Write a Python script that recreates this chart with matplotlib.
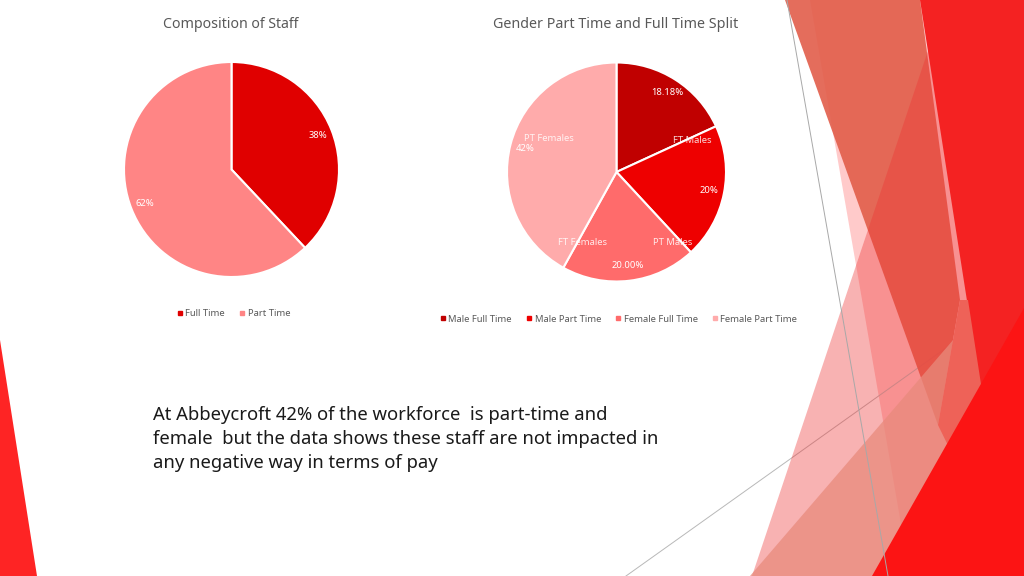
import matplotlib
matplotlib.use("Agg")
import matplotlib.pyplot as plt
from matplotlib.patches import Polygon
from matplotlib.lines import Line2D

# ---------------- data ----------------
staff_categories = ["Full Time", "Part Time"]
staff_values = [38, 62]
staff_labels = ["38%", "62%"]
staff_colors = ["#E00000", "#FF8585"]

gender_categories = ["Male Full Time", "Male Part Time", "Female Full Time", "Female Part Time"]
gender_values = [18.18, 20, 20, 42]
gender_labels = ["18.18%", "20%", "20.00%", "42%"]
gender_colors = ["#C00000", "#EE0000", "#FF6B6B", "#FFABAB"]
gender_tags = ["FT Males", "PT Males", "FT Females", "PT Females"]

title_left = "Composition of Staff"
title_right = "Gender Part Time and Full Time Split"
body_lines = ["At Abbeycroft 42% of the workforce  is part-time and",
              "female  but the data shows these staff are not impacted in",
              "any negative way in terms of pay"]

FONT = "Noto Sans"
W, H = 1024, 576
fig = plt.figure(figsize=(W / 100, H / 100), dpi=100)
fig.patch.set_facecolor("white")

# ---------------- background decoration (pixel coords) ----------------
bg = fig.add_axes([0, 0, 1, 1], zorder=0)
bg.set_xlim(0, W)
bg.set_ylim(H, 0)
bg.axis("off")

def poly(pts, color, alpha=1.0, z=1):
    bg.add_patch(Polygon(pts, closed=True, facecolor=color, edgecolor="none", alpha=alpha, zorder=z))

# pale pink band A
poly([(810, 0), (W, 0), (W, H), (910, H)], (1.0, 0.2, 0.2), 0.26, 1)
# thin grey line (diagonal)
bg.plot([626, 960], [H, 338], color="#B8B8B8", lw=0.7, zorder=1.5)
# salmon band
poly([(785, 0), (920, 0), (960, 300), (938, 425)], (226/255, 93/255, 74/255), 0.9, 2)
# pink band B
poly([(945, 0), (W, 0), (W, H), (752, H)], (0.93, 0.2, 0.2), 0.375, 3)
# lighter salmon band C
poly([(972, 318), (W, 300), (W, H), (750, H)], "#E88A7C", 0.75, 3.5)
# red band
poly([(920, 0), (W, 0), (W, H), (1010, H)], "#F42222", 1.0, 4)
poly([(960, 300), (968, 300), (985, 410), (960, 470), (938, 425)], "#EE6258", 1.0, 4)
# bright red triangle
poly([(W, 308), (W, H), (872, H)], "#FC1414", 1.0, 5)
# left red triangle
poly([(0, 340), (37, H), (0, H)], "#FE2424", 1.0, 5)
# thin grey line (near vertical)
bg.plot([787, 888], [0, H], color="#A8A8A8", lw=0.7, zorder=6)

# ---------------- pies ----------------
def pie_axes(cx, cy, r):
    return fig.add_axes([(cx - r) / W, (H - cy - r) / H, 2 * r / W, 2 * r / H], zorder=10)

def make_autopct(labels):
    it = iter(labels)
    return lambda pct: next(it)

ax1 = pie_axes(231.5, 169.5, 107.5)
ax1.pie(staff_values, colors=staff_colors, startangle=90, counterclock=False,
        radius=1.0, autopct=make_autopct(staff_labels), pctdistance=0.87,
        wedgeprops=dict(edgecolor="white", linewidth=1.5),
        textprops=dict(color="white", fontsize=6.8, family=FONT))
ax1.set_xlim(-1, 1); ax1.set_ylim(-1, 1)
ax1.patch.set_alpha(0)

ax2 = pie_axes(616.5, 172, 109.5)
ax2.pie(gender_values, colors=gender_colors, startangle=90, counterclock=False,
        radius=1.0, autopct=make_autopct(gender_labels), pctdistance=0.86,
        wedgeprops=dict(edgecolor="white", linewidth=1.5),
        textprops=dict(color="white", fontsize=6.8, family=FONT))
ax2.set_xlim(-1, 1); ax2.set_ylim(-1, 1)
ax2.patch.set_alpha(0)

# stray category tags placed in the gender pie (axes-fraction positions)
tag_pos = [(0.845, 0.645), (0.755, 0.18), (0.345, 0.18), (0.19, 0.655)]
for t, (tx, ty) in zip(gender_tags, tag_pos):
    ax2.text(tx, ty, t, transform=ax2.transAxes, ha="center", va="center",
             color="white", alpha=0.85, fontsize=6.8, family=FONT)

# titles
fig.text(231 / W, 1 - 25 / H, title_left, ha="center", va="center",
         color="#595959", fontsize=10.2, family=FONT)
fig.text(616 / W, 1 - 25 / H, title_right, ha="center", va="center",
         color="#595959", fontsize=10.3, family=FONT)

# legends
def legend(cats, cols, cx, cy):
    handles = [Line2D([], [], marker="s", linestyle="none", markersize=3,
                      markerfacecolor=c, markeredgecolor=c) for c in cols]
    lg = fig.legend(handles, cats, loc="center", bbox_to_anchor=(cx / W, 1 - cy / H),
                    ncol=len(cats), frameon=False, handlelength=0.5, handletextpad=0.3,
                    columnspacing=1.6, borderpad=0,
                    prop=dict(family=FONT, size=6.8))
    for t in lg.get_texts():
        t.set_color("#595959")

legend(staff_categories, staff_colors, 234, 314)
legend(gender_categories, gender_colors, 619, 319)

# body text
for i, line in enumerate(body_lines):
    fig.text(153 / W, 1 - (419.5 + 24 * i) / H, line, ha="left", va="baseline",
             color="#1A1A1A", fontsize=13.3, family=FONT)

fig.savefig("out.png", dpi=100, facecolor="white")
